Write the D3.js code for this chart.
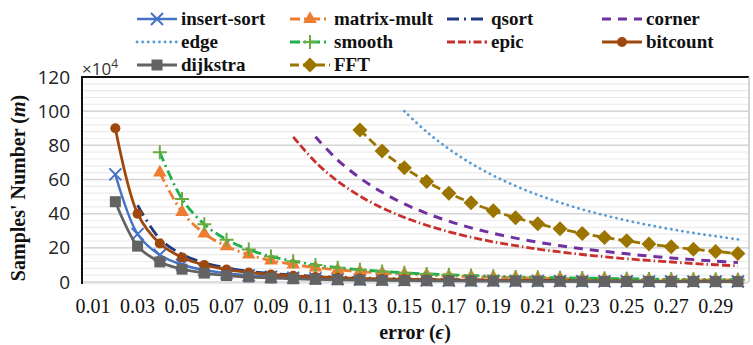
<!DOCTYPE html>
<html><head><meta charset="utf-8">
<script src="https://cdn.jsdelivr.net/npm/d3@7"></script>
<style>body{margin:0;background:#fff}svg{display:block}</style>
</head><body>
<svg id="c" width="753" height="345"></svg>
<script>
const categories = ["0.01","0.02","0.03","0.04","0.05","0.06","0.07","0.08","0.09","0.10","0.11","0.12","0.13","0.14","0.15","0.16","0.17","0.18","0.19","0.20","0.21","0.22","0.23","0.24","0.25","0.26","0.27","0.28","0.29","0.30"];
const xTickLabels = ["0.01","0.03","0.05","0.07","0.09","0.11","0.13","0.15","0.17","0.19","0.21","0.23","0.25","0.27","0.29"];
const yTicks = [0,20,40,60,80,100,120];
const seriesNames = ["insert-sort","matrix-mult","qsort","corner","edge","smooth","epic","bitcount","dijkstra","FFT"];
const insertSort = [null,63,28,15.8,10.1,7,5.1,3.9,3.1,2.5,2.1,1.75,1.5,1.3,1.1,1.0,0.87,0.78,0.7,0.63,0.57,0.52,0.48,0.44,0.4,0.37,0.35,0.32,0.3,0.28];
const matrixMult = [null,null,null,64,41,28.4,20.9,16,12.6,10.2,8.5,7.1,6.1,5.2,4.6,4.0,3.5,3.2,2.8,2.6,2.3,2.1,1.9,1.8,1.6,1.5,1.4,1.3,1.2,1.1];
const qsort = [null,null,45,25.3,16.2,11.25,8.3,6.3,5,4.05,3.35,2.8,2.4,2.07,1.8,1.58,1.4,1.25,1.12,1.0,0.92,0.84,0.77,0.7,0.65,0.6,0.56,0.52,0.48,0.45];
const corner = [null,null,null,null,null,null,null,null,null,null,85,71.4,60.9,52.5,45.7,40.2,35.6,31.7,28.5,25.7,23.3,21.25,19.4,17.9,16.5,15.2,14.1,13.1,12.2,11.4];
const edge = [null,null,null,null,null,null,null,null,null,null,null,null,null,null,100,87.9,77.9,69.4,62.3,56.25,51,46.5,42.5,39.1,36,33.3,30.9,28.7,26.8,25];
const smooth = [null,null,null,76,48.6,33.8,24.8,19,15,12.2,10,8.4,7.2,6.2,5.4,4.75,4.2,3.75,3.4,3.0,2.75,2.5,2.3,2.1,1.95,1.8,1.67,1.55,1.45,1.35];
const epic = [null,null,null,null,null,null,null,null,null,85,70.2,59,50.3,43.4,37.8,33.2,29.4,26.2,23.5,21.25,19.3,17.6,16.1,14.8,13.6,12.6,11.7,10.8,10.1,9.4];
const bitcount = [null,90,40,22.5,14.4,10,7.3,5.6,4.4,3.6,3.0,2.5,2.1,1.8,1.6,1.4,1.2,1.1,1.0,0.9,0.8,0.7,0.7,0.6,0.6,0.5,0.5,0.5,0.4,0.4];
const dijkstra = [null,47,21,11.75,7.5,5.2,3.8,2.9,2.3,1.9,1.55,1.3,1.1,0.96,0.84,0.73,0.65,0.58,0.52,0.47,0.43,0.39,0.36,0.33,0.3,0.28,0.26,0.24,0.22,0.21];
const fft = [null,null,null,null,null,null,null,null,null,null,null,null,89,76.7,66.9,58.8,52,46.4,41.7,37.6,34.1,31.1,28.4,26.1,24.1,22.25,20.6,19.2,17.9,16.7];

const seriesValues = [insertSort,matrixMult,qsort,corner,edge,smooth,epic,bitcount,dijkstra,fft];
const styles = [
  {color:"#4472C4", dash:null, marker:"x", w:2.4},
  {color:"#ED7D31", dash:"10,4,2,4", marker:"tri", w:2.8},
  {color:"#203A80", dash:"12,5,2,5", marker:null, w:2.8},
  {color:"#7030A0", dash:"9,7", marker:null, w:3},
  {color:"#5B9BD5", dash:"0.1,5.5", marker:null, w:2.8, cap:"round"},
  {color:"#1DB04B", dash:"10,4,2,4", marker:"plus", w:2.8, mcolor:"#6CAA40"},
  {color:"#C8302B", dash:"8,3,8,3,1.5,3", marker:null, w:2.8},
  {color:"#9E480E", dash:null, marker:"circle", w:2.8},
  {color:"#636363", dash:null, marker:"square", w:2.8},
  {color:"#9C7400", dash:"9,4", marker:"diamond", w:2.8}
];

const svg = d3.select("#c");
const L=82, R=749, T=77, B=282;
const x = d3.scaleBand().domain(categories).range([L,R]);
const cx = c => x(c) + x.bandwidth()/2;
const y = d3.scaleLinear().domain([0,120]).range([B,T]);

// gridlines
const g = svg.append("g");
g.selectAll("line.minor").data(d3.range(0,121,4)).join("line")
  .attr("x1",L).attr("x2",R).attr("y1",d=>y(d)).attr("y2",d=>y(d))
  .attr("stroke","#ececec").attr("stroke-width",1.2);
g.selectAll("line.major").data(yTicks).join("line")
  .attr("x1",L).attr("x2",R).attr("y1",d=>y(d)).attr("y2",d=>y(d))
  .attr("stroke","#d6d6d6").attr("stroke-width",1.5);
// borders
svg.append("line").attr("x1",L).attr("x2",R).attr("y1",T).attr("y2",T).attr("stroke","#111").attr("stroke-width",2);
svg.append("line").attr("x1",R).attr("x2",R).attr("y1",T).attr("y2",B).attr("stroke","#c8c8c8").attr("stroke-width",1.5);
svg.append("line").attr("x1",L).attr("x2",R).attr("y1",B+1).attr("y2",B+1).attr("stroke","#e0e0e0").attr("stroke-width",1.5);

// axes
const ya = svg.append("g").attr("transform",`translate(${L},0)`)
  .call(d3.axisLeft(y).tickValues(yTicks).tickSize(0).tickPadding(12));
ya.select(".domain").remove();
ya.selectAll("text").attr("font-family","'Open Sans', 'Liberation Sans', sans-serif").attr("font-size",19).attr("fill","#222");
svg.append("line").attr("x1",L).attr("x2",L).attr("y1",T-1).attr("y2",B+2).attr("stroke","#111").attr("stroke-width",2);

const xa = svg.append("g").attr("transform",`translate(0,${B})`)
  .call(d3.axisBottom(x).tickValues(xTickLabels).tickSize(0).tickPadding(17));
xa.select(".domain").remove();
xa.selectAll("text").attr("font-family","'Liberation Serif', serif").attr("font-size",20).attr("fill","#111");

svg.append("text").attr("x",L).attr("y",T-2).attr("font-family","'Open Sans','Liberation Sans',sans-serif")
  .attr("font-size",17).attr("fill","#333").text("×10").append("tspan").attr("dy",-7).attr("font-size",12).text("4");

// axis titles
const yt = svg.append("text").attr("transform","translate(25,188) rotate(-90)").attr("text-anchor","middle")
  .attr("font-family","'Liberation Serif', serif").attr("font-weight","bold").attr("font-size",20).attr("fill","#111");
yt.append("tspan").text("Samples' Number (");
yt.append("tspan").attr("font-style","italic").text("m");
yt.append("tspan").text(")");
const xt = svg.append("text").attr("x",415).attr("y",339).attr("text-anchor","middle")
  .attr("font-family","'Liberation Serif', serif").attr("font-weight","bold").attr("font-size",20).attr("fill","#111");
xt.append("tspan").text("error (");
xt.append("tspan").attr("font-style","italic").text("ϵ");
xt.append("tspan").text(")");

// markers
function drawMarker(sel, type, color){
  if(type==="x"){
    sel.append("path").attr("d","M-6,-6L6,6M-6,6L6,-6").attr("stroke",color).attr("stroke-width",2).attr("fill","none");
  } else if(type==="plus"){
    sel.append("path").attr("d","M-7,0H7M0,-7V7").attr("stroke",color).attr("stroke-width",2).attr("fill","none");
  } else if(type==="tri"){
    sel.append("path").attr("d",d3.symbol(d3.symbolTriangle,80)()).attr("fill",color);
  } else if(type==="circle"){
    sel.append("circle").attr("r",5).attr("fill",color);
  } else if(type==="square"){
    sel.append("rect").attr("x",-5.5).attr("y",-5.5).attr("width",11).attr("height",11).attr("fill",color);
  } else if(type==="diamond"){
    sel.append("path").attr("d","M0,-7.5L7.5,0L0,7.5L-7.5,0Z").attr("fill",color);
  }
}

const line = d3.line().defined(d=>d.v!=null).x(d=>cx(d.c)).y(d=>y(d.v)).curve(d3.curveCatmullRom.alpha(0.5));
const plot = svg.append("g");
seriesValues.forEach((vals,i)=>{
  const st = styles[i];
  const data = categories.map((c,j)=>({c, v: vals[j]}));
  const sg = plot.append("g");
  sg.append("path").datum(data).attr("d",line).attr("fill","none").attr("stroke",st.color)
    .attr("stroke-width",st.w).attr("stroke-dasharray",st.dash).attr("stroke-linecap",st.cap||"butt");
  if(st.marker){
    sg.selectAll("g.m").data(data.filter(d=>d.v!=null)).join("g")
      .attr("transform",d=>`translate(${cx(d.c)},${y(d.v)})`)
      .each(function(){ drawMarker(d3.select(this), st.marker, st.mcolor||st.color); });
  }
});

// legend
const colX = [137,290,447,602];
const rowY = [19,42,65];
const lg = svg.append("g");
seriesNames.forEach((name,i)=>{
  const st = styles[i];
  const col = i%4, row = Math.floor(i/4);
  const x0 = colX[col], y0 = rowY[row];
  const len = 40;
  const it = lg.append("g");
  it.append("line").attr("x1",x0).attr("x2",x0+len).attr("y1",y0).attr("y2",y0)
    .attr("stroke",st.color).attr("stroke-width",st.w).attr("stroke-dasharray",st.dash).attr("stroke-linecap",st.cap||"butt");
  if(st.marker){
    const m = it.append("g").attr("transform",`translate(${x0+len/2},${y0})`);
    drawMarker(m, st.marker, st.mcolor||st.color);
  }
  it.append("text").attr("x",x0+len+4).attr("y",y0+6).attr("font-family","'Liberation Serif', serif")
    .attr("font-weight","bold").attr("font-size",19).attr("fill","#111").text(name);
});
</script>
</body></html>
